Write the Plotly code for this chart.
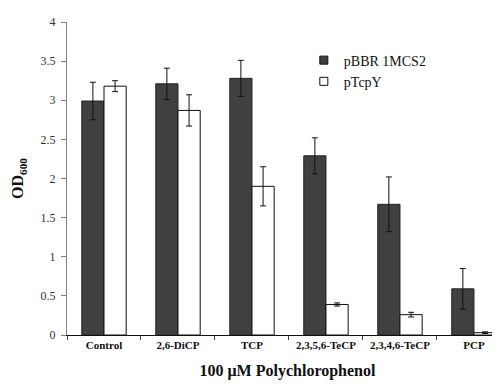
import plotly.graph_objects as go

categories = ["Control", "2,6-DiCP", "TCP", "2,3,5,6-TeCP", "2,3,4,6-TeCP", "PCP"]
pbbr_values = [2.99, 3.21, 3.28, 2.29, 1.67, 0.59]
pbbr_errors = [0.24, 0.20, 0.23, 0.23, 0.35, 0.26]
ptcpy_values = [3.18, 2.87, 1.90, 0.39, 0.26, 0.03]
ptcpy_errors = [0.07, 0.20, 0.25, 0.02, 0.03, 0.01]
y_ticks = [0, 0.5, 1, 1.5, 2, 2.5, 3, 3.5, 4]
series_names = ["pBBR 1MCS2", "pTcpY"]

FONT = "Liberation Serif, Times New Roman, serif"
DARK = "#404040"

fig = go.Figure()
fig.add_trace(go.Bar(
    name=series_names[0], x=categories, y=pbbr_values, showlegend=False,
    marker=dict(color=DARK, line=dict(color="#222222", width=1)),
    error_y=dict(type="data", array=pbbr_errors, color="#111111", thickness=1, width=3),
))
fig.add_trace(go.Bar(
    name=series_names[1], x=categories, y=ptcpy_values, showlegend=False,
    marker=dict(color="#ffffff", line=dict(color="#111111", width=1)),
    error_y=dict(type="data", array=ptcpy_errors, color="#111111", thickness=1, width=3),
))
# legend entries with small square symbols
fig.add_trace(go.Scatter(
    name=series_names[0], x=[None], y=[None], mode="markers",
    marker=dict(symbol="square", size=8, color=DARK, line=dict(color="#111111", width=1)),
))
fig.add_trace(go.Scatter(
    name=series_names[1], x=[None], y=[None], mode="markers",
    marker=dict(symbol="square", size=8, color="#ffffff", line=dict(color="#111111", width=1)),
))

fig.update_layout(
    width=500, height=384,
    margin=dict(l=59, r=0, t=14, b=57),
    paper_bgcolor="white", plot_bgcolor="white",
    barmode="group", bargap=0.4, bargroupgap=0,
    font=dict(family=FONT, color="#111111"),
    showlegend=True,
    legend=dict(x=0.537, y=0.928, xanchor="left", yanchor="top",
                font=dict(family=FONT, size=14, color="#111111"),
                bgcolor="rgba(0,0,0,0)", tracegroupgap=0, itemwidth=30),
    xaxis=dict(
        type="category", range=[-0.5, 5.46],
        showline=True, linecolor="#111111", linewidth=1,
        ticks="outside", tickson="boundaries", ticklen=4, tickcolor="#444444",
        tickfont=dict(family=FONT, size=11, color="#111111", weight="bold"),
        showgrid=False, zeroline=False,
        title=dict(text="100 μM Polychlorophenol", standoff=14,
                   font=dict(family=FONT, size=16, color="#111111", weight="bold")),
    ),
    yaxis=dict(
        range=[0, 4], tickvals=y_ticks, ticktext=[f"{v:g}" for v in y_ticks],
        showline=True, linecolor="#808080", linewidth=1,
        ticks="outside", ticklen=5, tickcolor="#808080", ticklabelstandoff=3,
        tickfont=dict(family=FONT, size=12, color="#333333"),
        showgrid=False, zeroline=False,
        title=dict(text="OD<sub>600</sub>", standoff=12,
                   font=dict(family=FONT, size=16, color="#111111", weight="bold")),
    ),
)

fig.write_html("out.html")
